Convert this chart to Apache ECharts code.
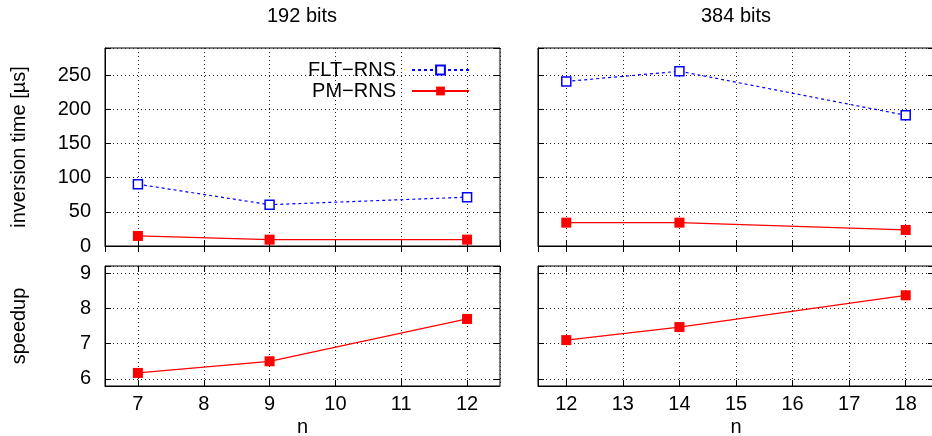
<!DOCTYPE html>
<html>
<head>
<meta charset="utf-8">
<script src="https://cdn.jsdelivr.net/npm/echarts@6/dist/echarts.min.js"></script>
<style>html,body{margin:0;padding:0;background:#fff}#c{width:932px;height:436px}</style>
</head>
<body>
<div id="c"></div>
<script>
// ---- data ----
const panelTitles = ['192 bits', '384 bits'];
const nLeft = [7, 9, 12];
const nRight = [12, 14, 18];
const flt192 = [90.5, 60.5, 71.5];
const pm192 = [14.7, 9.3, 9.3];
const flt384 = [241, 256, 191.5];
const pm384 = [34.2, 34.2, 23.5];
const speedup192 = [6.17, 6.5, 7.7];
const speedup384 = [7.1, 7.47, 8.37];
const seriesNames = ['FLT\u2212RNS', 'PM\u2212RNS'];
const yNameTop = 'inversion time [\u00b5s]';
const yNameBottom = 'speedup';
const xName = 'n';

const FONT = 'Liberation Sans, Arial, Helvetica, sans-serif';
const BLUE = '#0000ff', RED = '#ff0000';

const grids = [
  {left: 105, top: 48, width: 395, height: 198},
  {left: 538, top: 48, width: 396, height: 198},
  {left: 105, top: 266, width: 395, height: 120},
  {left: 538, top: 266, width: 396, height: 120}
];
grids.forEach(g => { g.show = true; g.borderColor = '#000'; g.borderWidth = 1; g.containLabel = false; g.outerBoundsMode = 'none'; });

const xRanges = [[6.5, 12.5], [11.5, 18.5], [6.5, 12.5], [11.5, 18.5]];
const yRanges = [[0, 290], [0, 290], [5.8, 9.2], [5.8, 9.2]];
const yStep = [50, 50, 1, 1];

const dotted = {show: true, lineStyle: {color: '#222', width: 1, type: [1, 3]}};
const intFmt = v => (Math.abs(v - Math.round(v)) < 1e-6 ? String(Math.round(v)) : '');

const xAxes = [], yAxes = [];
for (let i = 0; i < 4; i++) {
  const showLbl = i >= 2;
  xAxes.push({
    type: 'value', gridIndex: i, min: xRanges[i][0], max: xRanges[i][1],
    minInterval: 1, maxInterval: 1, splitNumber: 7,
    position: 'bottom',
    axisLine: {show: true, onZero: false, lineStyle: {color: '#000', width: 1}},
    axisTick: {show: true, inside: true, length: 6, lineStyle: {color: '#000'}},
    axisLabel: {show: showLbl, formatter: intFmt, color: '#000', fontSize: 20, fontFamily: FONT, margin: 8,
                showMinLabel: false, showMaxLabel: false},
    splitLine: dotted,
    name: showLbl ? xName : '', nameLocation: 'middle', nameGap: 31,
    nameTextStyle: {color: '#000', fontSize: 20, fontFamily: FONT}
  });
  yAxes.push({
    type: 'value', gridIndex: i, min: yRanges[i][0], max: yRanges[i][1],
    minInterval: yStep[i], maxInterval: yStep[i], splitNumber: i < 2 ? 6 : 3,
    position: 'left',
    axisLine: {show: true, onZero: false, lineStyle: {color: '#000', width: 1}},
    axisTick: {show: true, inside: true, length: 6, lineStyle: {color: '#000'}},
    axisLabel: {show: i % 2 === 0, color: '#000', fontSize: 20, fontFamily: FONT, margin: 14,
                formatter: v => (Math.abs(v / yStep[i] - Math.round(v / yStep[i])) < 1e-6 ? String(Math.round(v)) : '')},
    splitLine: dotted,
    name: i === 0 ? yNameTop : (i === 2 ? yNameBottom : ''), nameLocation: 'middle', nameGap: 76,
    nameTextStyle: {color: '#000', fontSize: 20, fontFamily: FONT}
  });
}
// mirror ticks (top / right)
for (let i = 0; i < 4; i++) {
  xAxes.push({
    type: 'value', gridIndex: i, min: xRanges[i][0], max: xRanges[i][1],
    minInterval: 1, maxInterval: 1, splitNumber: 7, position: 'top',
    axisLine: {show: false}, axisLabel: {show: false}, splitLine: {show: false},
    axisTick: {show: true, inside: true, length: 6, lineStyle: {color: '#000'}}
  });
  yAxes.push({
    type: 'value', gridIndex: i, min: yRanges[i][0], max: yRanges[i][1],
    minInterval: yStep[i], maxInterval: yStep[i], splitNumber: i < 2 ? 6 : 3, position: 'right',
    axisLine: {show: false}, axisLabel: {show: false}, splitLine: {show: false},
    axisTick: {show: true, inside: true, length: 6, lineStyle: {color: '#000'}}
  });
}

const pairs = (xs, ys) => xs.map((x, i) => [x, ys[i]]);
const fltStyle = (idx, xs, ys) => ({
  name: seriesNames[0], type: 'line', xAxisIndex: idx, yAxisIndex: idx, data: pairs(xs, ys),
  symbol: 'rect', symbolSize: 9, showSymbol: true,
  lineStyle: {color: BLUE, width: 1.2, type: [3, 3]},
  itemStyle: {color: '#fff', borderColor: BLUE, borderWidth: 1.5},
  animation: false, z: 3
});
const pmStyle = (idx, xs, ys, name) => ({
  name: name, type: 'line', xAxisIndex: idx, yAxisIndex: idx, data: pairs(xs, ys),
  symbol: 'rect', symbolSize: 10, showSymbol: true,
  lineStyle: {color: RED, width: 1.3},
  itemStyle: {color: RED, borderWidth: 0},
  animation: false, z: 4
});

const option = {
  animation: false,
  backgroundColor: '#fff',
  grid: grids,
  xAxis: xAxes,
  yAxis: yAxes,
  legend: {
    data: seriesNames, orient: 'vertical', align: 'right',
    right: 457, top: 55, itemWidth: 57, itemHeight: 11, itemGap: 1,
    textStyle: {color: '#000', fontSize: 20, fontFamily: FONT, padding: [0, 11, 0, 0]},
    selectedMode: false
  },
  graphic: [
    {type: 'text', x: 302, y: 16, style: {text: panelTitles[0], textAlign: 'center', textVerticalAlign: 'middle', font: '20px ' + FONT, fill: '#000'}},
    {type: 'text', x: 736, y: 16, style: {text: panelTitles[1], textAlign: 'center', textVerticalAlign: 'middle', font: '20px ' + FONT, fill: '#000'}}
  ],
  series: [
    fltStyle(0, nLeft, flt192),
    pmStyle(0, nLeft, pm192, seriesNames[1]),
    fltStyle(1, nRight, flt384),
    pmStyle(1, nRight, pm384, seriesNames[1]),
    pmStyle(2, nLeft, speedup192, 'speedup 192'),
    pmStyle(3, nRight, speedup384, 'speedup 384')
  ]
};
const chart = echarts.init(document.getElementById('c'), null, {renderer: 'canvas'});
chart.setOption(option);
</script>
</body>
</html>
